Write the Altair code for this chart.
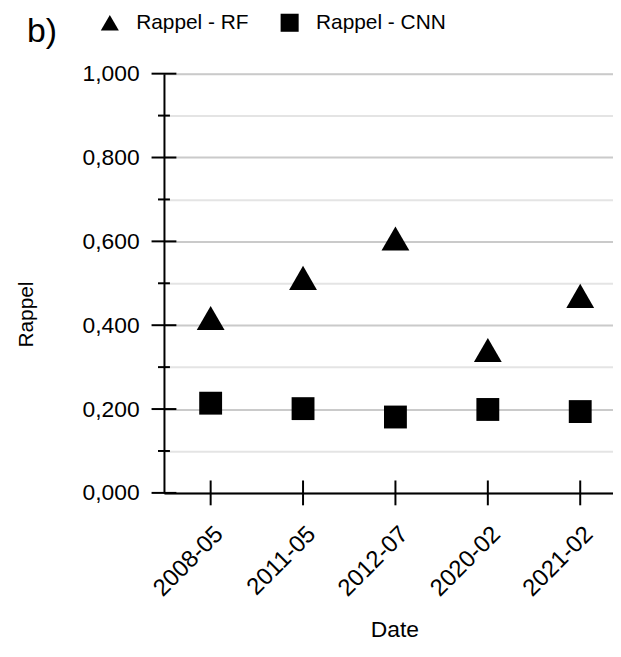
import altair as alt
import pandas as pd

# ---- data ----
dates = ["2008-05", "2011-05", "2012-07", "2020-02", "2021-02"]
rappel_rf = [0.417, 0.513, 0.607, 0.341, 0.470]
rappel_cnn = [0.214, 0.201, 0.181, 0.199, 0.194]
series_names = ["Rappel - RF", "Rappel - CNN"]
major_ticks = [0.0, 0.2, 0.4, 0.6, 0.8, 1.0]
minor_ticks = [0.1, 0.3, 0.5, 0.7, 0.9]
grid_values = sorted(major_ticks + minor_ticks)

W, H = 452, 422
FONT = "Liberation Sans"

df = pd.DataFrame({
    "Date": dates * 2,
    "Rappel": rappel_rf + rappel_cnn,
    "Serie": [series_names[0]] * len(dates) + [series_names[1]] * len(dates),
})
ytick_df = pd.DataFrame({
    "Rappel": major_ticks + minor_ticks,
    "kind": ["major"] * len(major_ticks) + ["minor"] * len(minor_ticks),
})
xtick_df = pd.DataFrame({"Date": dates, "Rappel": [0.0] * len(dates)})

x_scale = alt.Scale(type="point", domain=dates, padding=0.43, align=0.5875)
y_scale = alt.Scale(domain=[0, 1], nice=False, zero=True)

label_expr = "round(datum.value*10) % 2 == 0 ? replace(format(datum.value, '.3f'), '.', ',') : ''"

x_axis = alt.Axis(title="Date", labelAngle=-45, ticks=False, grid=False,
                  domainColor="black", domainWidth=2,
                  labelFont=FONT, labelFontSize=24, labelColor="black",
                  labelPadding=29,
                  titleFont=FONT, titleFontSize=23, titleFontWeight="normal",
                  titleColor="black", titleX=232, titleY=138,
                  titleBaseline="middle", titleAlign="center")
y_axis = alt.Axis(title="Rappel", values=grid_values, labelExpr=label_expr,
                  ticks=False, domainColor="black", domainWidth=2,
                  grid=True, gridWidth=2,
                  gridColor={"condition": {"test": "round(datum.value*10) % 2 == 0",
                                           "value": "#cacaca"},
                             "value": "#e4e4e4"},
                  labelFont=FONT, labelFontSize=23, labelColor="black",
                  labelPadding=25,
                  titleFont=FONT, titleFontSize=21, titleFontWeight="normal",
                  titleColor="black", titleX=-138, titleY=242, titleAngle=-90,
                  titleBaseline="middle", titleAlign="center")

X = alt.X("Date:N", scale=x_scale, sort=dates, axis=x_axis)
Y = alt.Y("Rappel:Q", scale=y_scale, axis=y_axis)

points = alt.Chart(df).mark_point(filled=True, opacity=1, color="black").encode(
    x=X,
    y=Y,
    shape=alt.Shape("Serie:N",
                    scale=alt.Scale(domain=series_names, range=["triangle-up", "square"]),
                    legend=alt.Legend(title=None, orient="none", direction="horizontal",
                                      legendX=-65, legendY=-62, padding=0,
                                      symbolSize=330, symbolFillColor="black",
                                      symbolStrokeColor="black", symbolStrokeWidth=0,
                                      labelFont=FONT, labelFontSize=21, labelColor="black",
                                      labelOffset=16, columnPadding=30)),
    size=alt.condition(alt.datum.Serie == series_names[0], alt.value(784), alt.value(530)),
)

yticks = alt.Chart(ytick_df).mark_tick(color="black", thickness=2, opacity=1,
                                        orient="horizontal").encode(
    y=Y,
    x=alt.value(0),
    size=alt.condition("datum.kind == 'major'", alt.value(25), alt.value(12)),
)

xticks = alt.Chart(xtick_df).mark_tick(color="black", thickness=2, opacity=1,
                                        orient="vertical", size=25).encode(
    x=X,
    y=Y,
)

chart = alt.layer(xticks, yticks, points).properties(
    width=W, height=H,
    autosize=alt.AutoSizeParams(type="none"),
    padding={"left": 157, "top": 64, "right": 0, "bottom": 150},
    title=alt.TitleParams("b)", anchor="start", frame="group", dx=-138, dy=64, offset=0,
                          baseline="alphabetic",
                          font=FONT, fontSize=34, fontWeight="normal", color="black"),
).configure_view(stroke=None).configure(font=FONT)

chart.save("out.html", embed_options={"renderer": "svg", "actions": False})
